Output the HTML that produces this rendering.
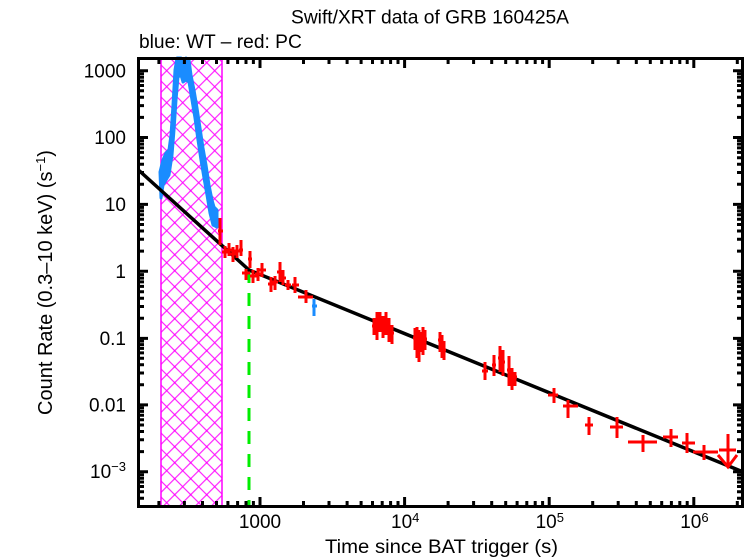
<!DOCTYPE html>
<html>
<head>
<meta charset="utf-8">
<style>
  html, body { margin: 0; padding: 0; background: #ffffff; }
  svg { display: block; }
  text { font-family: "Liberation Sans", Helvetica, Arial, sans-serif; fill: #000; }
</style>
</head>
<body>
<svg width="746" height="558" viewBox="0 0 746 558" xmlns="http://www.w3.org/2000/svg">
  <defs>
    <pattern id="hatch" patternUnits="userSpaceOnUse" x="6.7" y="6.7" width="16" height="16">
      <path d="M0 0L16 16M16 0L0 16" stroke="#ff00ff" stroke-width="1" fill="none"/>
      <rect x="7" y="7" width="2" height="2" fill="#ff00ff"/>
    </pattern>
  </defs>
  <rect x="0" y="0" width="746" height="558" fill="#ffffff"/>

  <text x="291" y="23.5" font-size="19.2" textLength="278" lengthAdjust="spacingAndGlyphs">Swift/XRT data of GRB 160425A</text>
  <text x="139" y="48" font-size="19.2">blue: WT – red: PC</text>

  <rect x="161" y="58" width="61" height="448" fill="url(#hatch)" stroke="#ff00ff" stroke-width="1.5"/>

  <line x1="249" y1="270" x2="249" y2="505" stroke="#00ee00" stroke-width="3" stroke-dasharray="13 10"/>

  <polygon fill="#1a8cff" stroke="#1a8cff" stroke-width="3" stroke-linejoin="round" points="160,172 163,160 166,153 169,150 171,135 173,105 175,70 177,58 181,58 183,65 186,58 189,60 191,75 194,90 197,108 200,128 203,148 206,165 209,185 212,200 214,207 217,210 217,227 213,225 210,213 207,195 204,178 201,160 198,140 195,118 192,100 189,82 186,80 183,82 181,75 178,77 176,100 174,130 172,155 169,175 166,180 163,185 161,198"/>

  <polyline points="139,170.5 249,270 742,471.5" fill="none" stroke="#000" stroke-width="3.5"/>

  <g stroke="#ff0000" stroke-width="3" fill="none">
    <path d="M220 218V245M218 231H223"/>
    <path d="M225 246V258M222 252H228"/>
    <path d="M229 243V256M226 250H232"/>
    <path d="M233 247V262M230 254H236"/>
    <path d="M237 245V258M234 251H240"/>
    <path d="M241 240V256M239 250H243"/>
    <path d="M250 251V268M248 259H252"/>
    <path d="M246 269V280M242 273H250"/>
    <path d="M253 270V283M250 276H257"/>
    <path d="M258 268V281M255 274H262"/>
    <path d="M262 263V277M259 270H266"/>
    <path d="M271 277V292M268 284H275"/>
    <path d="M275 276V290M272 282H278"/>
    <path d="M280 262V282M277 272H284"/>
    <path d="M283 270V285M280 278H286"/>
    <path d="M288 280V290M285 285H291"/>
    <path d="M295 277V293M292 285H299"/>
    <path d="M306 290V303M298 297H313"/>
    <path d="M374 318V335M372 326H377"/>
    <path d="M377 312V340M375 325H379"/>
    <path d="M380 312V332M378 322H382"/>
    <path d="M383 316V338M381 326H385"/>
    <path d="M386 312V335M384 323H388"/>
    <path d="M389 318V342M387 330H391"/>
    <path d="M392 325V344M390 333H394"/>
    <path d="M415 328V350M413 338H417"/>
    <path d="M417 327V358M415 342H419"/>
    <path d="M419 330V362M417 345H421"/>
    <path d="M421 332V352M419 341H423"/>
    <path d="M423 327V355M421 340H425"/>
    <path d="M425 330V350M423 339H427"/>
    <path d="M440 332V352M438 340H442"/>
    <path d="M442 335V358M440 345H444"/>
    <path d="M444 341V360M442 350H446"/>
    <path d="M485 362V380M482 371H488"/>
    <path d="M494 355V376M492 365H496"/>
    <path d="M500 346V372M498 358H502"/>
    <path d="M503 350V376M501 362H505"/>
    <path d="M509 356V386M507 370H511"/>
    <path d="M512 368V390M510 378H514"/>
    <path d="M515 372V386M513 377H517"/>
    <path d="M554 388V403M548 395H558"/>
    <path d="M568 400V418M563 406H578"/>
    <path d="M589 417V435M585 425H593"/>
    <path d="M617 417V438M610 427H623"/>
    <path d="M643 435V452M628 442H657"/>
    <path d="M671 429V447M663 437H678"/>
    <path d="M687 433V453M682 443H695"/>
    <path d="M704 445V460M693 452H718"/>
    <path d="M728 434V467M719 450H736M718 455L728 467L737 455"/>
  </g>

  <path d="M314 299V316M312 306H317" stroke="#1a8cff" stroke-width="3" fill="none"/>

  <rect x="138.5" y="58.5" width="604" height="448" fill="none" stroke="#000" stroke-width="3"/>

  <g stroke="#000" stroke-width="3" fill="none">
    <path d="M138 70.7H148M138 137.5H148M138 204.4H148M138 271.2H148M138 338.4H148M138 404.9H148M138 471.7H148"/>
    <path d="M743 70.7H733M743 137.5H733M743 204.4H733M743 271.2H733M743 338.4H733M743 404.9H733M743 471.7H733"/>
    <path d="M138 498.3H144M138 491.8H144M138 486.5H144M138 482H144M138 478.2H144M138 474.7H144M138 451.6H144M138 439.8H144M138 431.5H144M138 425H144M138 419.7H144M138 415.2H144M138 411.4H144M138 407.9H144M138 384.8H144M138 373H144M138 364.7H144M138 358.2H144M138 352.9H144M138 348.4H144M138 344.6H144M138 341.1H144M138 318.3H144M138 306.5H144M138 298.2H144M138 291.7H144M138 286.4H144M138 281.9H144M138 278.1H144M138 274.6H144M138 251.1H144M138 239.3H144M138 231H144M138 224.5H144M138 219.2H144M138 214.7H144M138 210.9H144M138 207.4H144M138 184.3H144M138 172.5H144M138 164.2H144M138 157.7H144M138 152.4H144M138 147.9H144M138 144.1H144M138 140.6H144M138 117.4H144M138 105.6H144M138 97.3H144M138 90.8H144M138 85.5H144M138 81H144M138 77.2H144M138 73.7H144"/>
    <path d="M743 498.3H737M743 491.8H737M743 486.5H737M743 482H737M743 478.2H737M743 474.7H737M743 451.6H737M743 439.8H737M743 431.5H737M743 425H737M743 419.7H737M743 415.2H737M743 411.4H737M743 407.9H737M743 384.8H737M743 373H737M743 364.7H737M743 358.2H737M743 352.9H737M743 348.4H737M743 344.6H737M743 341.1H737M743 318.3H737M743 306.5H737M743 298.2H737M743 291.7H737M743 286.4H737M743 281.9H737M743 278.1H737M743 274.6H737M743 251.1H737M743 239.3H737M743 231H737M743 224.5H737M743 219.2H737M743 214.7H737M743 210.9H737M743 207.4H737M743 184.3H737M743 172.5H737M743 164.2H737M743 157.7H737M743 152.4H737M743 147.9H737M743 144.1H737M743 140.6H737M743 117.4H737M743 105.6H737M743 97.3H737M743 90.8H737M743 85.5H737M743 81H737M743 77.2H737M743 73.7H737"/>
    <path d="M260 507V497M404.6 507V497M549.2 507V497M693.8 507V497"/>
    <path d="M260 58V68M404.6 58V68M549.2 58V68M693.8 58V68"/>
    <path d="M158.9 507V501M184.4 507V501M202.5 507V501M216.5 507V501M227.9 507V501M237.6 507V501M246 507V501M253.4 507V501M303.5 507V501M329 507V501M347.1 507V501M361.1 507V501M372.5 507V501M382.2 507V501M390.6 507V501M398 507V501M448.1 507V501M473.6 507V501M491.7 507V501M505.7 507V501M517.1 507V501M526.8 507V501M535.2 507V501M542.6 507V501M592.7 507V501M618.2 507V501M636.3 507V501M650.3 507V501M661.7 507V501M671.4 507V501M679.8 507V501M687.2 507V501M737.3 507V501"/>
    <path d="M158.9 58V64M184.4 58V64M202.5 58V64M216.5 58V64M227.9 58V64M237.6 58V64M246 58V64M253.4 58V64M303.5 58V64M329 58V64M347.1 58V64M361.1 58V64M372.5 58V64M382.2 58V64M390.6 58V64M398 58V64M448.1 58V64M473.6 58V64M491.7 58V64M505.7 58V64M517.1 58V64M526.8 58V64M535.2 58V64M542.6 58V64M592.7 58V64M618.2 58V64M636.3 58V64M650.3 58V64M661.7 58V64M671.4 58V64M679.8 58V64M687.2 58V64M737.3 58V64"/>
  </g>

  <g font-size="19" text-anchor="end">
    <text x="126" y="77.5">1000</text>
    <text x="126" y="144.2">100</text>
    <text x="126" y="211">10</text>
    <text x="126" y="277.8">1</text>
    <text x="126" y="345">0.1</text>
    <text x="126" y="411.5">0.01</text>
    <text x="126" y="478">10<tspan font-size="13" dy="-7">−3</tspan></text>
  </g>

  <g font-size="19">
    <text x="260" y="528" text-anchor="middle">1000</text>
    <text x="391" y="528">10<tspan font-size="13" dy="-6">4</tspan></text>
    <text x="535.6" y="528">10<tspan font-size="13" dy="-6">5</tspan></text>
    <text x="680.2" y="528">10<tspan font-size="13" dy="-6">6</tspan></text>
  </g>

  <text x="325" y="553" font-size="19.5" textLength="233" lengthAdjust="spacingAndGlyphs">Time since BAT trigger (s)</text>
  <text transform="translate(52,282.5) rotate(-90)" font-size="20" text-anchor="middle">Count Rate (0.3–10 keV) (s<tspan font-size="13" dy="-7">−1</tspan><tspan dy="7">)</tspan></text>
</svg>
</body>
</html>
